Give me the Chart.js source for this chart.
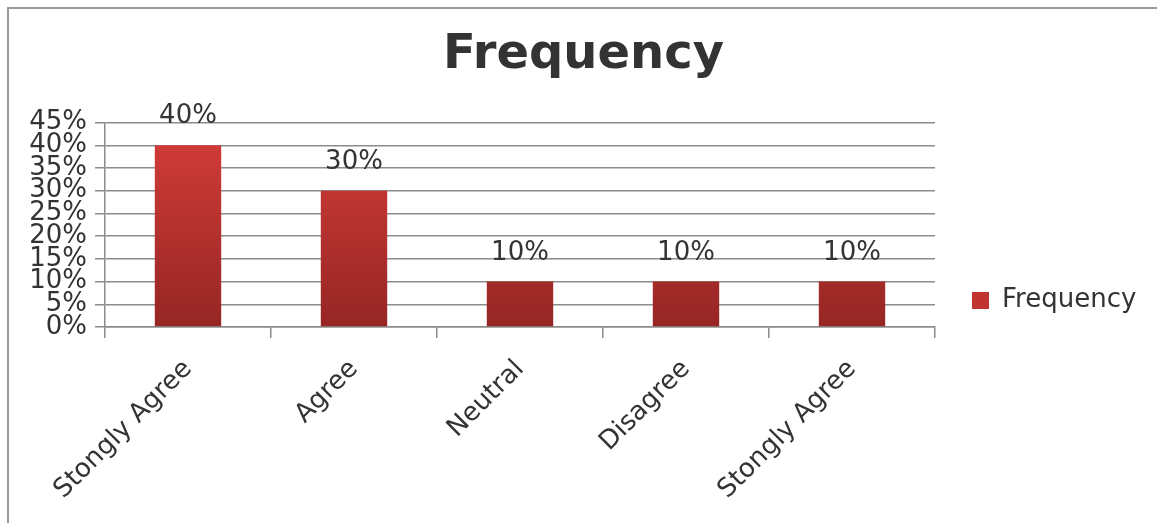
<!DOCTYPE html>
<html>
<head>
<meta charset="utf-8">
<script src="https://cdn.jsdelivr.net/npm/chart.js@4.4.1/dist/chart.umd.min.js"></script>
<style>
  html, body { margin: 0; padding: 0; background: #fff; }
</style>
</head>
<body>
<canvas id="freqChart" width="1157" height="523"></canvas>
<script>
var categories = ["Stongly Agree", "Agree", "Neutral", "Disagree", "Stongly Agree"];
var frequency = [40, 30, 10, 10, 10];
var yMax = 45;
var yStep = 5;

var FONT = "'DejaVu Sans', Verdana, sans-serif";
var TEXT = "#333333";
var GRID = "#8c8c8c";

// red bar fill, lighter at the top
function barFill(context) {
  var area = context.chart.chartArea;
  if (!area) return "#c0332f";
  var g = context.chart.ctx.createLinearGradient(0, area.top, 0, area.bottom);
  g.addColorStop(0, "#d63d39");
  g.addColorStop(1, "#952624");
  return g;
}

// outer frame like the spreadsheet chart box
var framePlugin = {
  id: "frame",
  beforeDraw: function (chart) {
    var c = chart.ctx;
    c.save();
    c.fillStyle = "#fff";
    c.fillRect(0, 0, chart.width, chart.height);
    c.strokeStyle = "#999";
    c.lineWidth = 2;
    c.beginPath();
    c.moveTo(8, chart.height);
    c.lineTo(8, 8);
    c.lineTo(chart.width, 8);
    c.stroke();
    c.restore();
  }
};

// percentage labels above each bar
var valueLabels = {
  id: "valueLabels",
  afterDatasetsDraw: function (chart) {
    var c = chart.ctx;
    var meta = chart.getDatasetMeta(0);
    c.save();
    c.font = "26px " + FONT;
    c.fillStyle = TEXT;
    c.textAlign = "center";
    c.textBaseline = "alphabetic";
    meta.data.forEach(function (bar, i) {
      c.fillText(frequency[i] + "%", bar.x, bar.y - 22);
    });
    c.restore();
  }
};

// keep the legend column a fixed width and sit it a bit lower
var legendBox = {
  id: "legendBox",
  afterInit: function (chart) {
    var lg = chart.legend;
    var fit = lg.fit;
    lg.fit = function () {
      fit.call(this);
      this.width = 222;
    };
  },
  afterLayout: function (chart) {
    chart.legend.top += 68;
  }
};

new Chart(document.getElementById("freqChart"), {
  type: "bar",
  data: {
    labels: categories,
    datasets: [
      {
        label: "Frequency",
        data: frequency,
        backgroundColor: barFill,
        borderWidth: 0,
        barPercentage: 0.4,
        categoryPercentage: 1
      }
    ]
  },
  options: {
    responsive: false,
    animation: false,
    devicePixelRatio: 1,
    layout: { padding: { top: 10, left: 10, right: 0, bottom: 0 } },
    scales: {
      x: {
        grid: {
          drawOnChartArea: false,
          drawTicks: true,
          tickLength: 11,
          color: GRID,
          lineWidth: 1.5
        },
        border: { color: GRID, width: 1.5 },
        ticks: {
          color: TEXT,
          padding: 16,
          font: { family: FONT, size: 26 },
          maxRotation: 45,
          minRotation: 45,
          autoSkip: false
        },
        afterFit: function (scale) { scale.height = 196; }
      },
      y: {
        min: 0,
        max: yMax,
        grid: { color: GRID, lineWidth: 1.5, tickLength: 10 },
        border: { color: GRID, width: 1.5 },
        ticks: {
          stepSize: yStep,
          autoSkip: false,
          color: TEXT,
          padding: 8,
          font: { family: FONT, size: 26, lineHeight: 1 },
          callback: function (v) { return v + "%"; }
        },
        afterFit: function (scale) { scale.width = 95; }
      }
    },
    plugins: {
      title: {
        display: true,
        text: "Frequency",
        color: TEXT,
        font: { family: FONT, size: 48, weight: "bold" },
        padding: { top: 17, bottom: 38 }
      },
      legend: {
        position: "right",
        labels: {
          boxWidth: 17,
          boxHeight: 17,
          padding: 37,
          color: TEXT,
          font: { family: FONT, size: 26 },
          generateLabels: function (chart) {
            var items = Chart.defaults.plugins.legend.labels.generateLabels(chart);
            items.forEach(function (it) {
              it.fillStyle = "#c0332f";
              it.strokeStyle = "#c0332f";
              it.lineWidth = 0;
            });
            return items;
          }
        }
      },
      tooltip: { enabled: false }
    }
  },
  plugins: [framePlugin, valueLabels, legendBox]
});
</script>
</body>
</html>
